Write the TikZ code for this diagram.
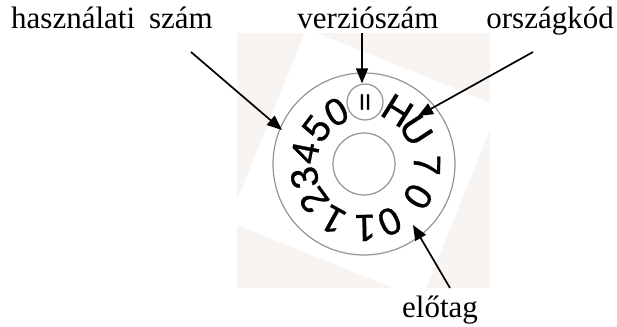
\documentclass[tikz,border=0pt]{standalone}
\usepackage{fontspec}
\setmainfont{Liberation Serif}
\newfontfamily\ringfont[FakeBold=0.8]{Liberation Sans}
\usetikzlibrary{arrows.meta}
\definecolor{photobg}{HTML}{F7F4F2}
\definecolor{ringgray}{HTML}{959595}
\begin{document}
\begin{tikzpicture}[x=1pt,y=1pt,
  lbl/.style={font=\fontsize{31}{34}\selectfont, inner sep=0pt},
  ptr/.style={line width=1.7pt, -{Triangle[length=15pt,width=12pt]}},
  ringline/.style={draw=ringgray, line width=1.2pt, circle, inner sep=0pt},
  digit/.style={font=\ringfont\fontsize{38}{38}\selectfont, inner sep=0pt}]
\useasboundingbox (0,0) rectangle (617,-326);
% photo background
\fill[photobg] (237,-33) rectangle (490,-288);
\begin{scope}
\clip (237,-33) rectangle (490,-288);
\fill[white, shift={(364,-164)}, rotate=-22] (-104,-104) rectangle (104,104);
\end{scope}
% disc
\node[ringline, minimum size=182pt] (outer) at (364,-164) {};
\node[ringline, minimum size=62pt] (hole) at (364,-164) {};
\node[ringline, minimum size=36pt, font=\ringfont\fontsize{22}{22}\selectfont] (ver) at (365,-102) {II};
\foreach \ch/\th/\r [count=\i] in {H/32/63, U/57/62, 7/91/63, 0/121/63, 0/156/63, 1/179/64, 1/209/64, 2/234/62, 3/257/61, 4/281/60, 5/307/59, 0/332/59}
  \path (outer.center) ++({90-\th}:\r) node[digit, rotate=-\th] (d\i) {\ch};
% labels
\node[lbl, anchor=base west] (usage) at (11,-29) {használati\hspace{0.45em}szám};
\node[lbl, anchor=base] (version) at (368,-29) {verziószám};
\node[lbl, anchor=base east] (country) at (614,-29) {országkód};
\node[lbl, anchor=base] (prefix) at (440,-317) {előtag};
% arrows
\coordinate (s1) at (191,-52);
\coordinate (t1) at (282,-130);
\coordinate (s2) at (362,-33);
\coordinate (s3) at (533,-52);
\coordinate (t3) at (418,-116);
\coordinate (s4) at (450,-288);
\coordinate (t4) at (413,-225);
\draw[ptr] (s1) -- (t1);
\draw[ptr] (s2) -- (s2 |- ver.north);
\draw[ptr] (s3) -- (t3);
\draw[ptr] (s4) -- (t4);
\end{tikzpicture}
\end{document}
